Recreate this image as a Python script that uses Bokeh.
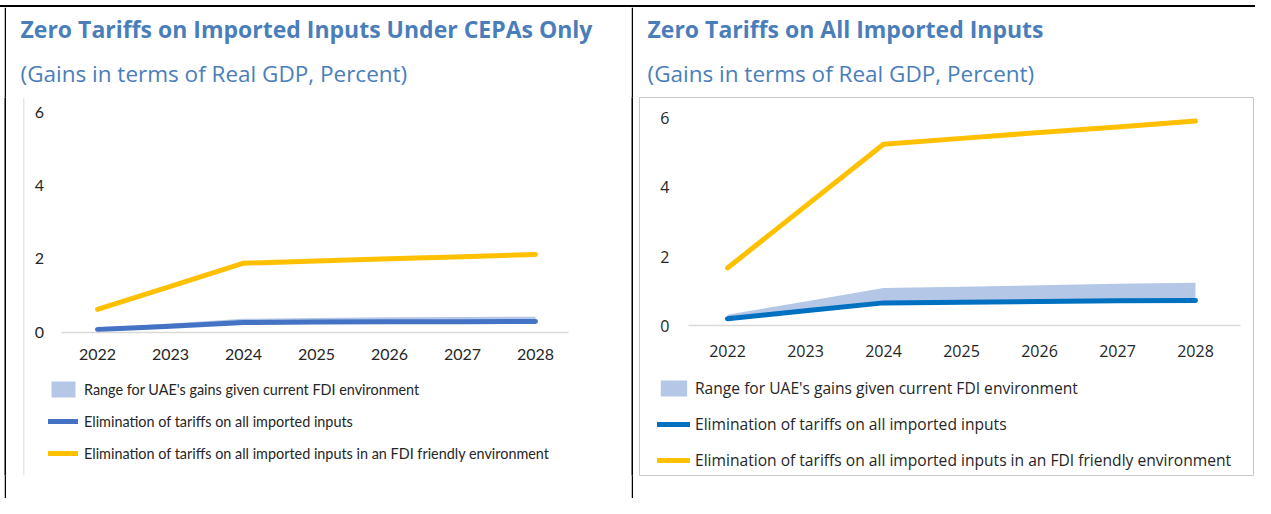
from bokeh.plotting import figure
from bokeh.layouts import row, column
from bokeh.models import Range1d, FixedTicker, Legend, LegendItem, Title, Span, Div, Spacer
from bokeh.embed import file_html
from bokeh.resources import INLINE

# ---------------- data ----------------
years = [2022, 2023, 2024, 2025, 2026, 2027, 2028]
year_labels = ["2022", "2023", "2024", "2025", "2026", "2027", "2028"]
y_ticks = [0, 2, 4, 6]
y_tick_labels = ["0", "2", "4", "6"]

series_labels = [
    "Range for UAE's gains given current FDI environment",
    "Elimination of tariffs on all imported inputs",
    "Elimination of tariffs on all imported inputs in an FDI friendly environment",
]

# Left panel: zero tariffs on imported inputs under CEPAs only
left_title = "Zero Tariffs on Imported Inputs Under CEPAs Only"
left_subtitle = "(Gains in terms of Real GDP, Percent)"
left_range_low = [0.07, 0.16, 0.26, 0.27, 0.28, 0.28, 0.29]
left_range_high = [0.10, 0.23, 0.36, 0.38, 0.40, 0.41, 0.42]
left_elim = [0.07, 0.16, 0.26, 0.27, 0.28, 0.28, 0.29]
left_fdi = [0.62, 1.25, 1.88, 1.94, 2.00, 2.06, 2.12]

# Right panel: zero tariffs on all imported inputs
right_title = "Zero Tariffs on All Imported Inputs"
right_subtitle = "(Gains in terms of Real GDP, Percent)"
right_range_low = [0.20, 0.43, 0.66, 0.68, 0.70, 0.72, 0.73]
right_range_high = [0.32, 0.70, 1.09, 1.13, 1.17, 1.21, 1.24]
right_elim = [0.20, 0.43, 0.66, 0.68, 0.70, 0.72, 0.73]
right_fdi = [1.67, 3.46, 5.25, 5.42, 5.59, 5.75, 5.92]

TITLE_COLOR = "#4A7EBB"
BAND_COLOR = "#B4C7E7"
YELLOW = "#FFC000"

PANEL_H = 491


def bar(w, h, color):
    b = figure(width=w, height=h, toolbar_location=None, output_backend="svg",
               x_axis_type=None, y_axis_type=None, min_border=0, title=None,
               background_fill_color=color, border_fill_color=color,
               outline_line_color=None)
    return b


def make_panel(cfg):
    fl, fr, ft, fb = cfg["frame"]
    pxa, pxb = cfg["x_px"]
    py0, py6 = cfg["y_px"]
    xs = (pxb - pxa) / (years[-1] - years[0])
    ys = (py0 - py6) / (y_ticks[-1] - y_ticks[0])
    x_start = years[0] - (pxa - fl) / xs
    x_end = years[-1] + (fr - pxb) / xs
    y_end = (py0 - ft) / ys
    y_start = -(fb - py0) / ys

    p = figure(width=cfg["width"], height=PANEL_H, toolbar_location=None,
               output_backend="svg",
               x_range=Range1d(x_start, x_end), y_range=Range1d(y_start, y_end),
               min_border_left=fl, min_border_right=cfg["width"] - fr,
               min_border_top=ft, min_border_bottom=PANEL_H - fb,
               background_fill_color="white", border_fill_color="white",
               outline_line_color=cfg["outline"])
    p.grid.visible = False

    # titles: plot title (outer) = main title, added title (inner) = subtitle
    p.title.text = cfg["title"]
    p.title.text_font = "Open Sans"
    p.title.text_font_size = "23px"
    p.title.text_font_style = "bold"
    p.title.text_color = TITLE_COLOR
    p.title.offset = cfg["title_offset"]
    p.title.standoff = cfg["main_standoff"]
    sub = Title(text=cfg["subtitle"], text_font="Open Sans", text_font_size="22.5px",
                text_font_style="normal", text_color=TITLE_COLOR,
                offset=cfg["title_offset"], standoff=cfg["sub_standoff"])
    p.add_layout(sub, "above")

    # x axis
    xa = p.xaxis[0]
    xa.fixed_location = 0
    xa.bounds = cfg["x_bounds"]
    xa.ticker = FixedTicker(ticks=years, minor_ticks=[])
    xa.major_label_overrides = {y: l for y, l in zip(years, year_labels)}
    xa.axis_line_color = "#D9D9D9"
    xa.axis_line_width = 1.5
    xa.major_tick_line_color = None
    xa.minor_tick_line_color = None
    xa.major_label_text_font = cfg["tick_font"]
    xa.major_label_text_font_size = cfg["tick_size"]
    xa.major_label_text_color = "#262626"
    xa.major_label_standoff = cfg["x_standoff"]

    ya = p.yaxis[0]
    ya.fixed_location = 2021.5
    ya.ticker = FixedTicker(ticks=y_ticks, minor_ticks=[])
    ya.major_label_overrides = {t: l for t, l in zip(y_ticks, y_tick_labels)}
    ya.axis_line_color = None
    ya.major_tick_line_color = None
    ya.minor_tick_line_color = None
    ya.major_label_text_font = cfg["tick_font"]
    ya.major_label_text_font_size = cfg["tick_size"]
    ya.major_label_text_color = "#262626"
    ya.major_label_standoff = cfg["y_standoff"]

    if cfg.get("left_line"):
        p.add_layout(Span(location=x_start, dimension="height",
                          line_color=cfg["left_line"], line_width=1.5))

    band = p.varea(x=years, y1=cfg["low"], y2=cfg["high"], fill_color=BAND_COLOR)
    elim = p.line(x=years, y=cfg["elim"], line_color=cfg["blue"], line_width=5,
                  line_cap="round", line_join="round")
    fdi = p.line(x=years, y=cfg["fdi"], line_color=YELLOW, line_width=5,
                 line_cap="round", line_join="round")

    lg = Legend(items=[LegendItem(label=series_labels[0], renderers=[band]),
                       LegendItem(label=series_labels[1], renderers=[elim]),
                       LegendItem(label=series_labels[2], renderers=[fdi])],
                location=cfg["legend_loc"], orientation="vertical",
                padding=0, margin=0, spacing=cfg["legend_spacing"],
                glyph_width=cfg["glyph_w"], glyph_height=20, label_height=20,
                label_standoff=cfg["label_standoff"],
                label_text_font=cfg["legend_font"],
                label_text_font_size=cfg["legend_size"],
                label_text_color="#262626",
                border_line_color=None, background_fill_alpha=0)
    p.add_layout(lg)
    return p


left_cfg = dict(width=625, frame=(17, 580, 90, 468), x_px=(91, 529), y_px=(324.5, 105),
                outline=None, left_line="#CFCFCF",
                title=left_title, subtitle=left_subtitle, title_offset=-3,
                sub_standoff=18, main_standoff=4,
                x_bounds=(2021.5, 2028.45), tick_font="Lato",
                tick_size="16px", x_standoff=11, y_standoff=11,
                low=left_range_low, high=left_range_high, elim=left_elim, fdi=left_fdi,
                blue="#4472C4", legend_loc=(25, 12), legend_spacing=12, glyph_w=30,
                label_standoff=6, legend_font="Lato", legend_size="14.4px")

right_cfg = dict(width=622, frame=(6, 620, 90, 471), x_px=(94, 562), y_px=(320, 111),
                 outline="#C8C8C8", left_line=None,
                 title=right_title, subtitle=right_subtitle, title_offset=8,
                 sub_standoff=18, main_standoff=4,
                 x_bounds=(2021.5, 2028.58), tick_font="Open Sans",
                 tick_size="16px", x_standoff=13, y_standoff=13,
                 low=right_range_low, high=right_range_high, elim=right_elim, fdi=right_fdi,
                 blue="#0070C0", legend_loc=(18, 4), legend_spacing=14, glyph_w=33,
                 label_standoff=5, legend_font="Open Sans", legend_size="15.6px")

left_p = make_panel(left_cfg)
right_p = make_panel(right_cfg)

top_space = Spacer(width=1255, height=5)
top_border = Div(text="", width=1255, height=2,
                 styles={"background-color": "black", "margin": "0", "padding": "0"})

layout = column(
    top_space,
    top_border,
    row(bar(4, PANEL_H, "white"), bar(2, PANEL_H, "black"), left_p,
        bar(2, PANEL_H, "black"), right_p, spacing=0),
    spacing=0)

open("out.html", "w").write(file_html(layout, INLINE))
